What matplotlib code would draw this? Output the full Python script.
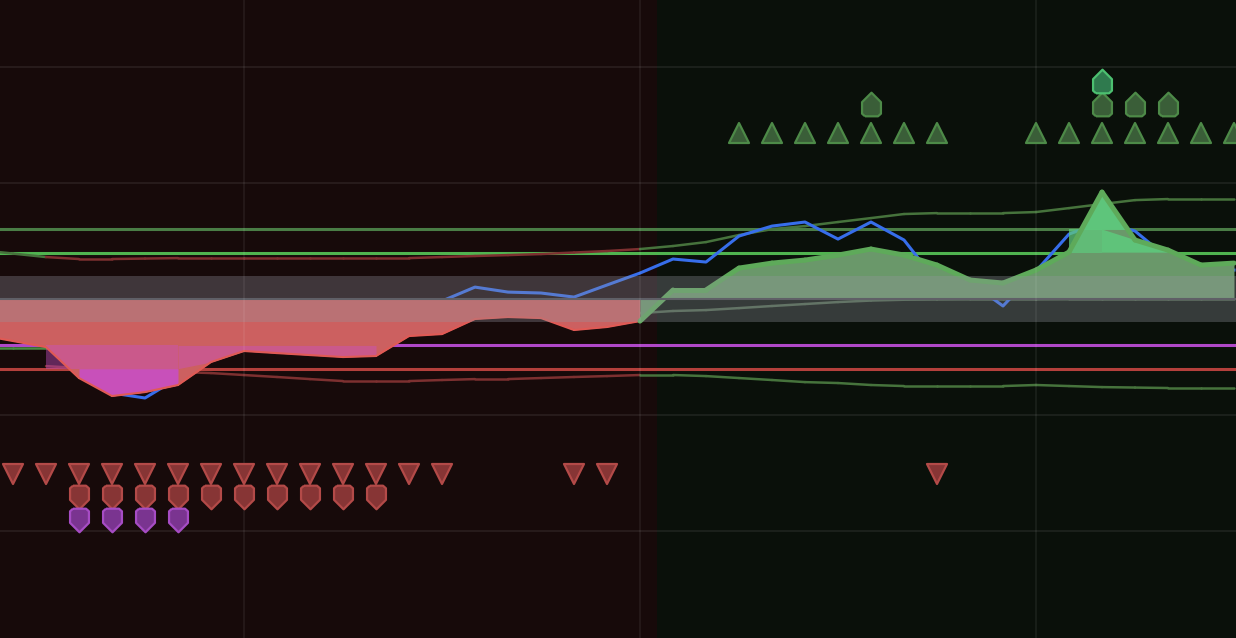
import numpy as np
import matplotlib
matplotlib.use("Agg")
import matplotlib.pyplot as plt
from matplotlib.collections import LineCollection
from matplotlib.markers import MarkerStyle

# bar index, -1 is the bar cut off at the left edge
bars = np.arange(-1, 38)

# main oscillator (filled one)
osc = np.array([-31.0, -36.2, -41.4, -68.1, -83.6, -80.2, -74.1, -54.3, -44.8, -46.6,
                -48.3, -50.0, -49.1, -31.9, -30.2, -17.2, -15.5, -16.4, -26.7, -24.1,
                -19.0, 7.8, 7.8, 26.7, 31.0, 33.6, 37.9, 43.1, 37.9, 29.3,
                16.4, 13.8, 25.0, 40.5, 92.2, 50.9, 42.2, 29.3, 31.0])
# blue signal line
signal = np.array([-22.4, -27.6, -35.3, -62.9, -81.0, -85.3, -68.1, -49.1, -39.7, -37.1,
                   -38.8, -40.5, -39.7, -19.8, -1.7, 10.3, 6.0, 5.2, 1.7, 12.1,
                   22.4, 34.5, 31.9, 54.3, 62.9, 66.4, 51.7, 66.4, 50.9, 14.7,
                   14.7, -6.0, 24.1, 56.0, 66.4, 58.6, 35.3, 26.7, 25.0])
# dynamic bands
upper = np.array([42.2, 39.2, 36.2, 34.5, 34.5, 34.9, 35.3, 35.3, 35.3, 35.3,
                  35.3, 35.3, 35.3, 35.3, 36.2, 37.1, 37.9, 38.8, 40.1, 41.4,
                  43.1, 45.7, 49.1, 55.2, 60.3, 62.9, 66.4, 69.8, 73.3, 74.1,
                  74.1, 74.1, 75.0, 78.4, 81.9, 85.3, 86.2, 86.2, 86.2])
lower = np.array([-57.8, -59.5, -60.3, -61.2, -62.9, -63.8, -65.5, -67.2, -69.0, -70.7,
                  -70.7, -70.7, -69.8, -69.0, -69.0, -68.1, -67.2, -66.4, -65.5, -65.5,
                  -66.4, -68.1, -69.8, -71.6, -72.4, -74.1, -75.0, -75.0, -75.0, -75.0,
                  -74.1, -75.0, -75.9, -76.3, -76.7, -76.7, -76.7])  # bars 1..37
lower_tail = np.array([-42.2, -42.2, -42.2])  # bars -1..1, before the flip
mid = np.array([-14, -15, -16, -17, -17, -17, -17, -17, -17, -16,
                -16, -15, -15, -14, -14, -13, -13, -13, -12.5, -12.3,
                -12.1, -10.3, -9.5, -7.8, -6.0, -4.3, -2.6, -1.3, -0.6, -0.4,
                -0.3, -0.3, -0.3, -0.2, -0.2, -0.2, -0.2, -0.2, -0.2])
trend_up = np.array([1, 1] + [0] * 18 + [1] * 19, dtype=bool)
flip_bar = 19

ob1, ob2 = 40, 60
os1, os2 = -40, -60
band = 20

# signal markers (bar positions)
sell_tri = [0, 1, 2, 3, 4, 5, 6, 7, 8, 9, 10, 11, 12, 13, 17, 18, 28]
sell_shield = [2, 3, 4, 5, 6, 7, 8, 9, 10, 11]
extreme_sell = [2, 3, 4, 5]
buy_tri = [22, 23, 24, 25, 26, 27, 28, 31, 32, 33, 34, 35, 36, 37]
buy_shield = [26, 33, 34, 35]
extreme_buy = [33]
y_sell_tri, y_sell_shield, y_extreme_sell = -151, -171, -190.5
y_buy_tri, y_buy_shield, y_extreme_buy = 143, 168, 188


def seg_line(ax, x, y, colors, lw, z, alpha=1.0):
    pts = np.column_stack([x, y]).reshape(-1, 1, 2)
    segs = np.concatenate([pts[:-1], pts[1:]], axis=1)
    lc = LineCollection(segs, colors=colors, linewidths=lw, zorder=z,
                        alpha=alpha, capstyle="round", joinstyle="round")
    ax.add_collection(lc)


fig = plt.figure(figsize=(12.36, 6.38), dpi=100)
ax = fig.add_axes([0, 0, 1, 1])
x0, x1 = -13 / 33, 1223 / 33
ax.set_xlim(x0, x1)
ax.set_ylim(-292.2, 257.8)
ax.axis("off")

# background by trend
ax.axvspan(x0, 19.5, color="#170a0a", lw=0, zorder=0)
ax.axvspan(19.5, x1, color="#0a100a", lw=0, zorder=0)

# level lines
ax.axhline(ob2, color="#4a7d46", lw=2.2, zorder=1)
ax.axhline(ob1, color="#50b450", lw=2.2, zorder=1)
ax.axhline(os1, color="#b048c8", lw=2.2, zorder=1)
ax.axhline(os2, color="#b4403c", lw=2.2, zorder=1)

# bands
red_c, green_c = "#7d3030", "#46733c"
seg_cols = [green_c if t else red_c for t in trend_up[:-1]]
seg_line(ax, bars, upper, seg_cols, 1.8, 1.5)
seg_line(ax, bars[2:], lower, seg_cols[2:], 1.8, 1.5)
seg_line(ax, bars[:3], lower_tail, "#4a8a44", 1.8, 1.5)
seg_line(ax, bars, mid, ["#4b644b" if t else "#5a3030" for t in trend_up[:-1]], 1.8, 1.5)

# blue signal
ax.plot(bars, signal, color="#376eeb", lw=2.2, zorder=2, solid_joinstyle="round")

# oscillator fills
bear = bars <= flip_bar
bull = bars >= flip_bar
ax.fill_between(bars, 0, osc, where=bear, color="#cc6060", lw=0, zorder=3)
ax.fill_between(bars, 0, osc, where=bull, color="#6a986a", lw=0, zorder=3)

# oversold zone
deep = osc < os2
zone = deep | np.r_[deep[1:], False]
inner = zone & np.r_[zone[1:], False]
ax.fill_between(bars, os1, os2, where=zone, color="#c850c8", alpha=0.42, lw=0, zorder=3.2)
ax.fill_between(bars, os1, np.maximum(osc, os2), where=(osc < os1) & ~inner,
                color="#c850c8", alpha=0.42, lw=0, zorder=3.2)
ax.fill_between(bars, os2, osc, where=deep, color="#c850c0", alpha=0.95, lw=0, zorder=3.4)

# overbought zone
high = osc > ob2
gzone = high | np.r_[high[1:], False]
ginner = gzone & np.r_[gzone[1:], False]
ax.fill_between(bars, ob1, ob2, where=gzone, color="#5ec87c", alpha=0.75, lw=0, zorder=3.2)
ax.fill_between(bars, ob1, np.minimum(osc, ob2), where=(osc > ob1) & ~ginner,
                color="#5ec87c", alpha=0.9, lw=0, zorder=3.2)
ax.fill_between(bars, ob2, osc, where=high, interpolate=True,
                color="#5ec87c", alpha=0.95, lw=0, zorder=3.4)

# oscillator line
curve_cols = ["#e05a55" if b < flip_bar else "#5eaa5a" for b in bars[:-1]]
curve_lw = [1.5 if b < flip_bar else 3.6 for b in bars[:-1]]
seg_line(ax, bars, osc, curve_cols, curve_lw, 4)

# neutral band and zero line
ax.fill_between([x0, x1], -band, band, color="#9696a0", alpha=0.32, lw=0, zorder=5)
ax.axhline(0, color="#5f5f66", lw=1.5, zorder=5.2)

# grid
for gx in [7, 19, 31]:
    ax.axvline(gx, color="white", alpha=0.06, lw=1.5, zorder=5.5)
for gy in [-200, -100, 100, 200]:
    ax.axhline(gy, color="white", alpha=0.07, lw=1.5, zorder=0.5)

# markers
shield_dn = MarkerStyle([(-0.55, 1), (0.55, 1), (0.8, 0.78), (0.8, -0.2), (0, -1),
                         (-0.8, -0.2), (-0.8, 0.78), (-0.55, 1)], joinstyle="round")
shield_up = MarkerStyle([(-0.55, -1), (0.55, -1), (0.8, -0.78), (0.8, 0.2), (0, 1),
                         (-0.8, 0.2), (-0.8, -0.78), (-0.55, -1)], joinstyle="round")
tri_dn = MarkerStyle("v", joinstyle="round")
tri_up = MarkerStyle("^", joinstyle="round")


def marks(idx, y, m, ms, fc, ec):
    ax.plot(idx, [y] * len(idx), ls="none", marker=m, ms=ms, mfc=fc, mec=ec,
            mew=1.6, zorder=7)


marks(sell_tri, y_sell_tri, tri_dn, 14.5, "#873535", "#b34a48")
marks(sell_shield, y_sell_shield, shield_dn, 17, "#873535", "#b34a48")
marks(extreme_sell, y_extreme_sell, shield_dn, 17, "#7a3490", "#a64cc4")
marks(buy_tri, y_buy_tri, tri_up, 14.5, "#3a5e38", "#4d8a48")
marks(buy_shield, y_buy_shield, shield_up, 17, "#3a5e38", "#4d8a48")
marks(extreme_buy, y_extreme_buy, shield_up, 17, "#2f7a4e", "#4cc070")

fig.savefig("out.png", dpi=100, facecolor="#170a0a")
